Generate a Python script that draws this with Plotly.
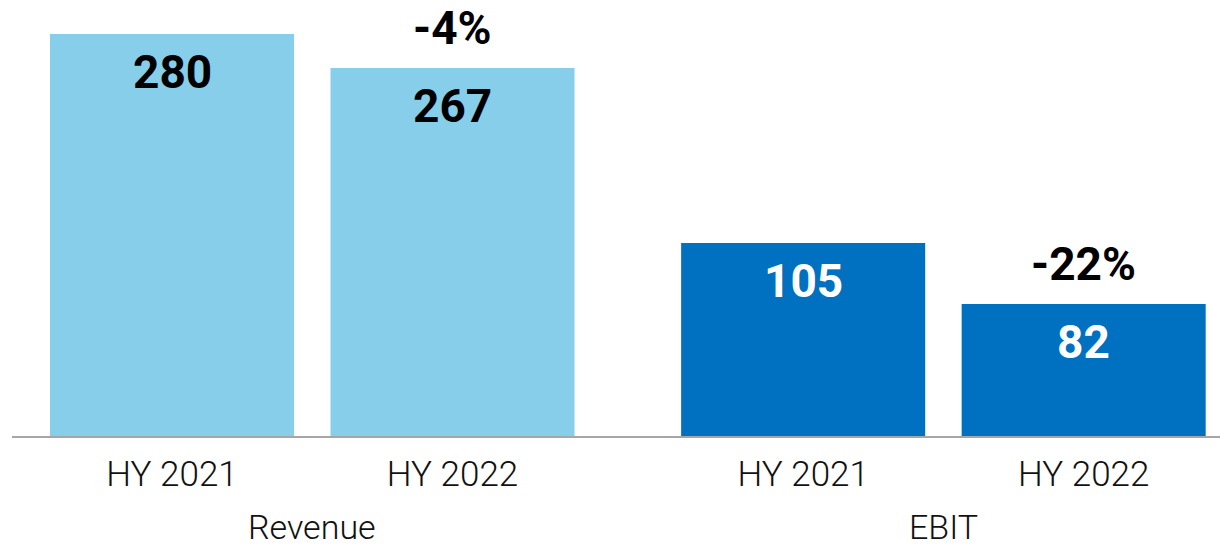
import plotly.graph_objects as go

# ---- data ----
groups = ["Revenue", "EBIT"]
periods = ["HY 2021", "HY 2022"]
revenue = [280, 267]
ebit = [105, 82]
changes = ["-4%", "-22%"]

# ---- layout parameters ----
GROUP_GAP = 0.25
BAR_W = 0.87
LIGHT = "#87CEEB"
DARK = "#0070C0"
FONT = "Roboto"

def pos(gi, si):
    return gi * (len(periods) + GROUP_GAP) + si

rev_x = [pos(0, i) for i in range(len(periods))]
ebit_x = [pos(1, i) for i in range(len(periods))]

fig = go.Figure()
fig.add_trace(go.Bar(x=rev_x, y=revenue, width=BAR_W, marker=dict(color=LIGHT, line=dict(width=0)),
                     yaxis="y", hoverinfo="skip", showlegend=False))
fig.add_trace(go.Bar(x=ebit_x, y=ebit, width=BAR_W, marker=dict(color=DARK, line=dict(width=0)),
                     yaxis="y2", hoverinfo="skip", showlegend=False))

ann = []
# value labels
for xs, vals, yref, col in [(rev_x, revenue, "y", "#000000"), (ebit_x, ebit, "y2", "#ffffff")]:
    for x, v in zip(xs, vals):
        ann.append(dict(x=x, y=v, xref="x", yref=yref, text=f"<b>{v}</b>", showarrow=False,
                        yanchor="top", yshift=-9, font=dict(family=FONT, size=46, color=col)))
# change labels above the second bar of each group
for xs, vals, yref, ch in [(rev_x, revenue, "y", changes[0]), (ebit_x, ebit, "y2", changes[1])]:
    ann.append(dict(x=xs[-1], y=vals[-1], xref="x", yref=yref, text=f"<b>{ch}</b>", showarrow=False,
                    yanchor="bottom", yshift=11, font=dict(family=FONT, size=46, color="#000000")))
# group labels
for gi, g in enumerate(groups):
    ann.append(dict(x=(pos(gi, 0) + pos(gi, len(periods) - 1)) / 2, y=0, xref="x", yref="paper",
                    text=g, showarrow=False, yanchor="top", yshift=-69,
                    font=dict(family=FONT, size=34, color="#111111", weight=300)))

fig.update_layout(
    width=1220, height=546,
    margin=dict(l=12, r=0, t=10, b=110),
    paper_bgcolor="white", plot_bgcolor="white",
    barmode="overlay",
    xaxis=dict(range=[-0.5704, 3.736], tickvals=rev_x + ebit_x, ticktext=periods + periods,
               showline=True, linecolor="#A6A6A6", linewidth=2, showgrid=False, zeroline=False,
               ticks="outside", ticklen=6, tickcolor="rgba(0,0,0,0)",
               tickfont=dict(family=FONT, size=35, color="#111111", weight=300)),
    yaxis=dict(range=[126.3, 289.2], visible=False, showgrid=False, zeroline=False),
    yaxis2=dict(range=[32.2, 192.8], overlaying="y", visible=False, showgrid=False, zeroline=False),
    annotations=ann,
)

fig.write_html("out.html", config={"displayModeBar": False},
               post_script="document.body.style.margin='0';document.body.style.overflow='hidden';")
